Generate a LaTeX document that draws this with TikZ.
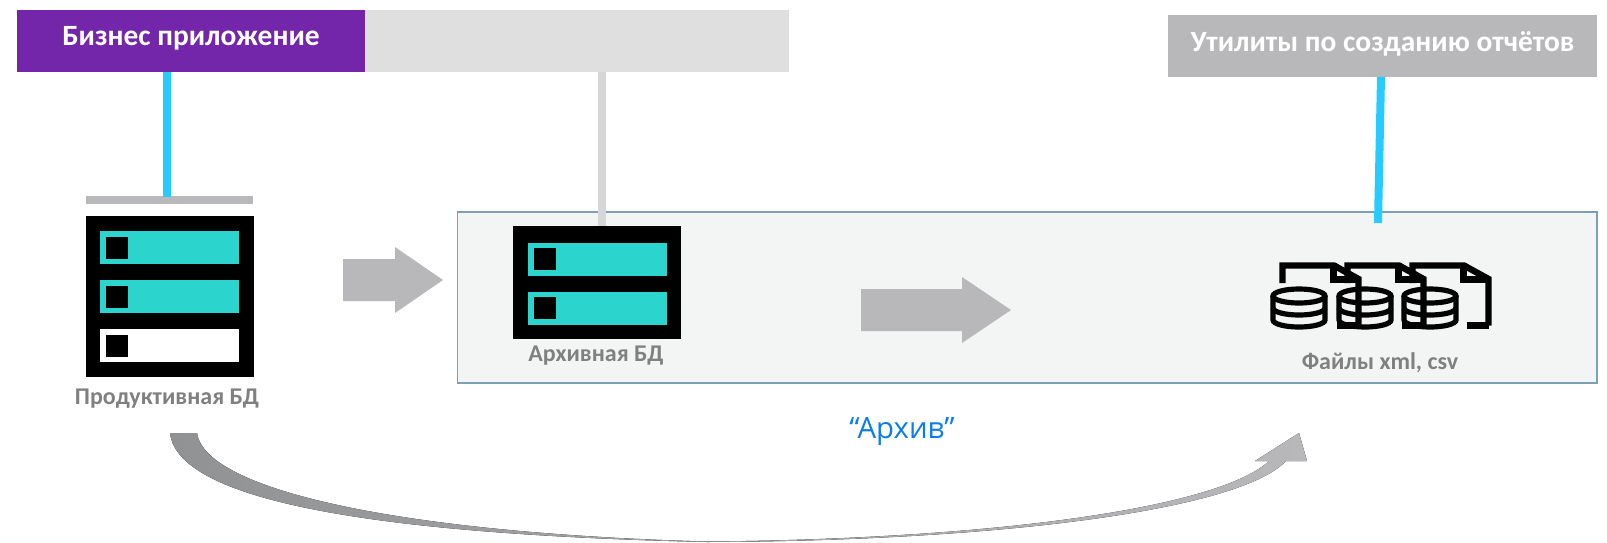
\documentclass[tikz,border=0pt]{standalone}
\usepackage{fontspec}
\setmainfont{Carlito}
\newfontfamily\archfont{Open Sans}
\usetikzlibrary{calc,backgrounds}
\definecolor{bizcolor}{RGB}{115,38,170}
\definecolor{lightbar}{RGB}{223,223,223}
\definecolor{midbar}{RGB}{184,184,186}
\definecolor{panelcolor}{RGB}{243,245,244}
\definecolor{panelline}{RGB}{125,160,180}
\definecolor{rowcolor}{RGB}{43,212,204}
\definecolor{linkblue}{RGB}{38,204,255}
\definecolor{linkgray}{RGB}{215,215,215}
\definecolor{labelgray}{RGB}{128,128,128}
\definecolor{archblue}{RGB}{10,125,240}
\definecolor{curvedark}{RGB}{145,146,148}
\definecolor{curvemid}{RGB}{168,169,171}
\tikzset{
  appbox/.style={inner sep=0pt,minimum height=31pt,text depth=4.7pt,text=white,font=\fontsize{14.7}{16}\selectfont\bfseries},
  dbbox/.style={fill=black,inner sep=0pt,minimum width=84pt},
  dblabel/.style={text=labelgray,font=\fontsize{12}{14}\selectfont\bfseries},
  link/.style={line width=4pt,color=linkblue},
  bigarrow/.style={fill=midbar,draw=none},
  filepart/.style={line width=3.2pt,color=black},
  discpart/.style={line width=2.6pt,color=black}
}
\begin{document}
\begin{tikzpicture}[x=0.5pt,y=-0.5pt]
\useasboundingbox (0,0) rectangle (1607,542);

\node[draw=panelline,fill=panelcolor,line width=0.6pt,inner sep=0pt,minimum width=569.75pt,minimum height=85.5pt] (panel) at (1027.25,297.5) {};

\node[appbox,fill=bizcolor,minimum width=174pt] (biz) at (191,41) {Бизнес приложение};
\node[appbox,fill=lightbar,minimum width=212pt] (archapp) at (577,41) {};
\node[appbox,fill=midbar,minimum width=214.5pt] (reports) at (1382.5,46) {Утилиты по созданию отчётов};

% bar over the production db
\node[fill=midbar,inner sep=0pt,minimum width=83.5pt,minimum height=4pt] (dbbar) at (169.5,199.5) {};

\coordinate (bizend) at (167,197);
\coordinate (archend) at (602,228);
\coordinate (repstart) at (1381,77);
\coordinate (repend) at (1378,223);
\draw[link] (biz.south -| bizend) -- (bizend);
\draw[link,color=linkgray] (archapp.south -| archend) -- (archend);
\draw[link] (repstart) -- (repend);

% databases
\node[dbbox,minimum height=80.5pt] (dbprod) at (170,296.5) {};
\node[dbbox,minimum height=56.5pt] (dbarch) at (597,282.5) {};

\begin{scope}[every node/.style={fill=rowcolor,inner sep=0pt,minimum width=69.5pt,minimum height=16.5pt}]
\node (prodrow1) at (169.5,247.5) {};
\node (prodrow2) at (169.5,296.5) {};
\node[fill=white] (prodrow3) at (169.5,345.5) {};
\node (archrow1) at (597,259) {};
\node (archrow2) at (597,308) {};
\end{scope}
\begin{scope}[every node/.style={fill=black,inner sep=0pt,minimum width=11pt,minimum height=11pt}]
\node (prodkey1) at (117,247.5) {};
\node (prodkey2) at (117,296.5) {};
\node (prodkey3) at (117,345.5) {};
\node (archkey1) at (544.5,258.5) {};
\node (archkey2) at (544.5,308) {};
\end{scope}

\node[dblabel] (prodlabel) at (167,399) {Продуктивная БД};
\node[dblabel] (archlabel) at (596,356) {Архивная БД};
\node[dblabel] (filelabel) at (1380,363) {Файлы xml, csv};
\node[text=archblue,inner sep=0pt,font=\archfont\fontsize{14.7}{17}\selectfont] (archname) at (902,431) {“Архив”};

% block arrows
\fill[bigarrow] (343,259) -- (395,259) -- (395,247) -- (443,280) -- (395,313) -- (395,301) -- (343,301) -- cycle;
\fill[bigarrow] (861,289) -- (962,289) -- (962,277) -- (1011,310) -- (962,343) -- (962,331) -- (861,331) -- cycle;

% file icons
\begin{scope}
\clip (1260,262) rectangle (1500,330);
\foreach \dx in {0,65,130} {
  \draw[filepart,xshift=\dx*0.5pt] (1282.5,283) -- (1282.5,265.5) -- (1334,265.5) -- (1358.5,279) -- (1358.5,325.5);
  \draw[filepart,xshift=\dx*0.5pt] (1333.5,263) -- (1333.5,279.5) -- (1358.5,279.5);
  \draw[filepart,xshift=\dx*0.5pt] (1358.5,325.5) -- (1337,325.5);
}
\end{scope}
\foreach \cx in {1299,1365,1430} {
  \draw[discpart] (\cx,296) ellipse (26 and 7);
  \draw[discpart] (\cx-26,296) -- (\cx-26,320) arc (180:0:26 and 7) -- (\cx+26,296);
  \draw[discpart] (\cx-26,308) arc (180:0:26 and 7);
}

% curved arrow at the bottom
\fill[left color=curvedark,middle color=curvemid,right color=midbar]
  (170,433) .. controls (178,505) and (400,535) .. (707,542)
  .. controls (1000,541) and (1240,510) .. (1286,461)
  -- (1307,461) -- (1299,433) -- (1255,461) -- (1269,461)
  .. controls (1220,507) and (1000,539) .. (707,541.5)
  .. controls (400,533) and (205,490) .. (197,433) -- cycle;
\end{tikzpicture}
\end{document}
